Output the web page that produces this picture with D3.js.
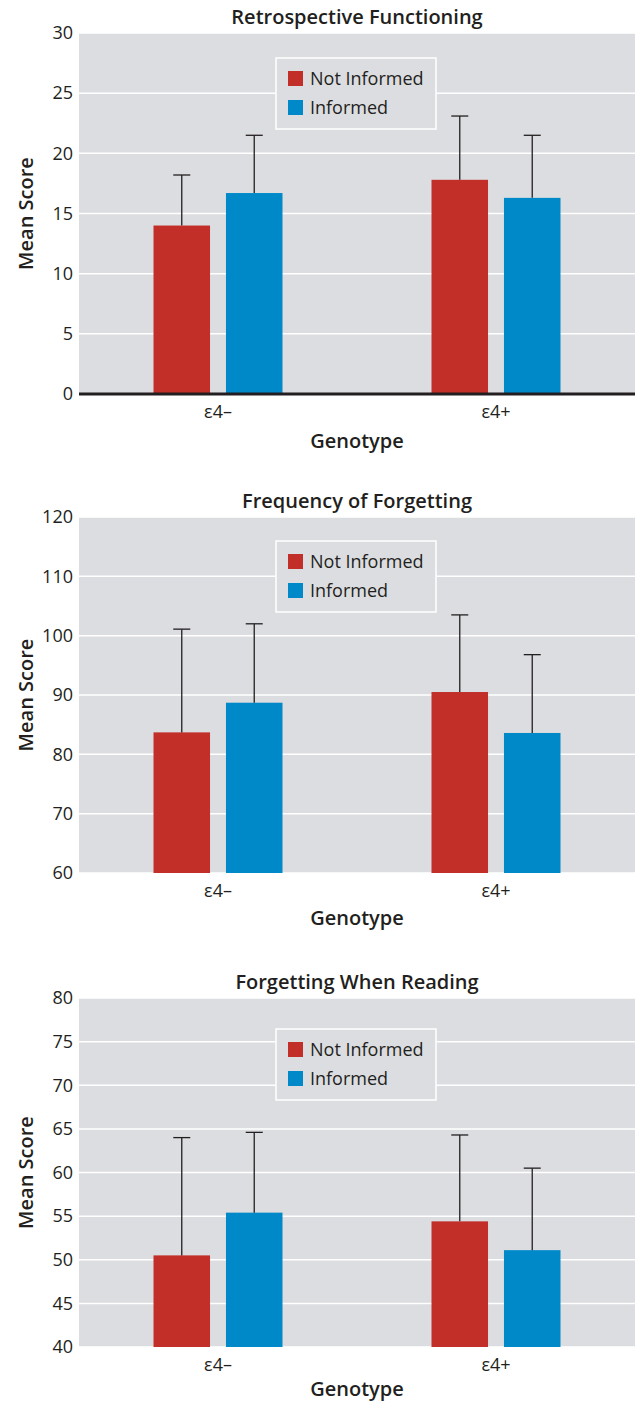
<!DOCTYPE html>
<html>
<head>
<meta charset="utf-8">
<script src="https://cdn.jsdelivr.net/npm/d3@7"></script>
<style>
  body { margin: 0; background: #fff; }
  text { font-family: "Open Sans", "Noto Sans", sans-serif; fill: #231f20; }
</style>
</head>
<body>
<div class="visHolder"></div>
<script>
// categories
const genotypes = ['ε4–', 'ε4+'];
const groups = ['Not Informed', 'Informed'];
const titles = ['Retrospective Functioning', 'Frequency of Forgetting', 'Forgetting When Reading'];

// y axis ranges and ticks
const yDomains = [[0, 30], [60, 120], [40, 80]];
const yTicks = [
  [0, 5, 10, 15, 20, 25, 30],
  [60, 70, 80, 90, 100, 110, 120],
  [40, 45, 50, 55, 60, 65, 70, 75, 80]
];

// means, per genotype [ε4–, ε4+]
const retroNotInformed = [14.0, 17.8];
const retroInformed = [16.7, 16.3];
const freqNotInformed = [83.7, 90.5];
const freqInformed = [88.7, 83.6];
const readNotInformed = [50.5, 54.4];
const readInformed = [55.4, 51.1];

// SD (upper error bar only)
const retroNotInformedSD = [4.2, 5.3];
const retroInformedSD = [4.8, 5.2];
const freqNotInformedSD = [17.4, 13.0];
const freqInformedSD = [13.3, 13.2];
const readNotInformedSD = [13.5, 9.9];
const readInformedSD = [9.2, 9.4];

const means = [
  [retroNotInformed, retroInformed],
  [freqNotInformed, freqInformed],
  [readNotInformed, readInformed]
];
const sds = [
  [retroNotInformedSD, retroInformedSD],
  [freqNotInformedSD, freqInformedSD],
  [readNotInformedSD, readInformedSD]
];

const colors = { 'Not Informed': '#c22e28', 'Informed': '#0089c9' };

const width = 635;
const height = 1402;
const left = 79;
const right = 635;
// plot top/bottom for each panel
const plotTops = [33, 517, 998];
const plotBottoms = [394, 873, 1347];
const legendOffsets = [25, 24, 31];
const xTitleOffsets = [54, 52, 49];

const svg = d3.select('.visHolder')
  .append('svg')
  .attr('width', width)
  .attr('height', height);

const x0 = d3.scaleBand()
  .domain(genotypes)
  .range([left, right])
  .paddingInner(0.536)
  .paddingOuter(0.268);

const x1 = d3.scaleBand()
  .domain(groups)
  .range([0, x0.bandwidth()])
  .paddingInner(0.22);

titles.forEach((title, p) => {
  const top = plotTops[p];
  const bottom = plotBottoms[p];
  const y = d3.scaleLinear().domain(yDomains[p]).range([bottom, top]);
  const g = svg.append('g').attr('class', 'panel');

  // background
  g.append('rect')
    .attr('x', left).attr('y', top)
    .attr('width', right - left).attr('height', bottom - top)
    .attr('fill', '#dcdde0');

  // gridlines
  g.selectAll('.grid')
    .data(yTicks[p])
    .enter()
    .append('line')
    .attr('x1', left).attr('x2', right)
    .attr('y1', d => y(d)).attr('y2', d => y(d))
    .attr('stroke', '#fff')
    .attr('stroke-width', 1.5);

  // y axis labels
  const yAxis = d3.axisLeft(y).tickValues(yTicks[p]).tickSize(0).tickPadding(6);
  const ya = g.append('g')
    .attr('transform', 'translate(' + left + ',0)')
    .call(yAxis);
  ya.select('.domain').remove();
  ya.selectAll('text')
    .style('font-size', '18px')
    .attr('fill', '#231f20');

  // legend
  const lg = g.append('g')
    .attr('transform', 'translate(276,' + (top + legendOffsets[p]) + ')');
  lg.append('rect')
    .attr('width', 160).attr('height', 71)
    .attr('fill', '#dcdde0')
    .attr('stroke', '#fff')
    .attr('stroke-width', 1.5);
  groups.forEach((grp, i) => {
    lg.append('rect')
      .attr('x', 12).attr('y', 13 + i * 29)
      .attr('width', 15).attr('height', 15)
      .attr('fill', colors[grp]);
    lg.append('text')
      .attr('x', 34).attr('y', 26.5 + i * 29)
      .style('font-size', '18px')
      .text(grp);
  });

  // bars
  const rows = [];
  genotypes.forEach((gt, gi) => {
    groups.forEach((grp, si) => {
      rows.push({ gt, grp, mean: means[p][si][gi], sd: sds[p][si][gi] });
    });
  });

  g.selectAll('.bar')
    .data(rows)
    .enter()
    .append('rect')
    .attr('x', d => x0(d.gt) + x1(d.grp))
    .attr('y', d => y(d.mean))
    .attr('width', x1.bandwidth())
    .attr('height', d => bottom - y(d.mean))
    .attr('fill', d => colors[d.grp]);

  // error bars (upper)
  const eb = g.selectAll('.err')
    .data(rows)
    .enter()
    .append('g')
    .attr('transform', d => 'translate(' + (x0(d.gt) + x1(d.grp) + x1.bandwidth() / 2) + ',0)');
  eb.append('line')
    .attr('y1', d => y(d.mean)).attr('y2', d => y(d.mean + d.sd))
    .attr('stroke', '#231f20').attr('stroke-width', 1.3);
  eb.append('line')
    .attr('x1', -8.5).attr('x2', 8.5)
    .attr('y1', d => y(d.mean + d.sd)).attr('y2', d => y(d.mean + d.sd))
    .attr('stroke', '#231f20').attr('stroke-width', 1.3);

  // zero line for first panel
  if (yDomains[p][0] === 0) {
    g.append('line')
      .attr('x1', left).attr('x2', right)
      .attr('y1', y(0)).attr('y2', y(0))
      .attr('stroke', '#231f20')
      .attr('stroke-width', 3);
  }

  // x axis labels
  const xAxis = d3.axisBottom(x0).tickSize(0).tickPadding(11);
  const xa = g.append('g')
    .attr('transform', 'translate(0,' + bottom + ')')
    .call(xAxis);
  xa.select('.domain').remove();
  xa.selectAll('text')
    .style('font-size', '18px')
    .attr('fill', '#231f20');

  // titles
  g.append('text')
    .attr('x', (left + right) / 2)
    .attr('y', top - 9.5)
    .attr('text-anchor', 'middle')
    .style('font-size', '20px')
    .style('font-weight', '600')
    .text(title);

  g.append('text')
    .attr('x', (left + right) / 2)
    .attr('y', bottom + xTitleOffsets[p])
    .attr('text-anchor', 'middle')
    .style('font-size', '20px')
    .style('font-weight', '600')
    .text('Genotype');

  g.append('text')
    .attr('transform', 'translate(33,' + ((top + bottom) / 2) + ') rotate(-90)')
    .attr('text-anchor', 'middle')
    .style('font-size', '20px')
    .style('font-weight', '600')
    .text('Mean Score');
});
</script>
</body>
</html>
